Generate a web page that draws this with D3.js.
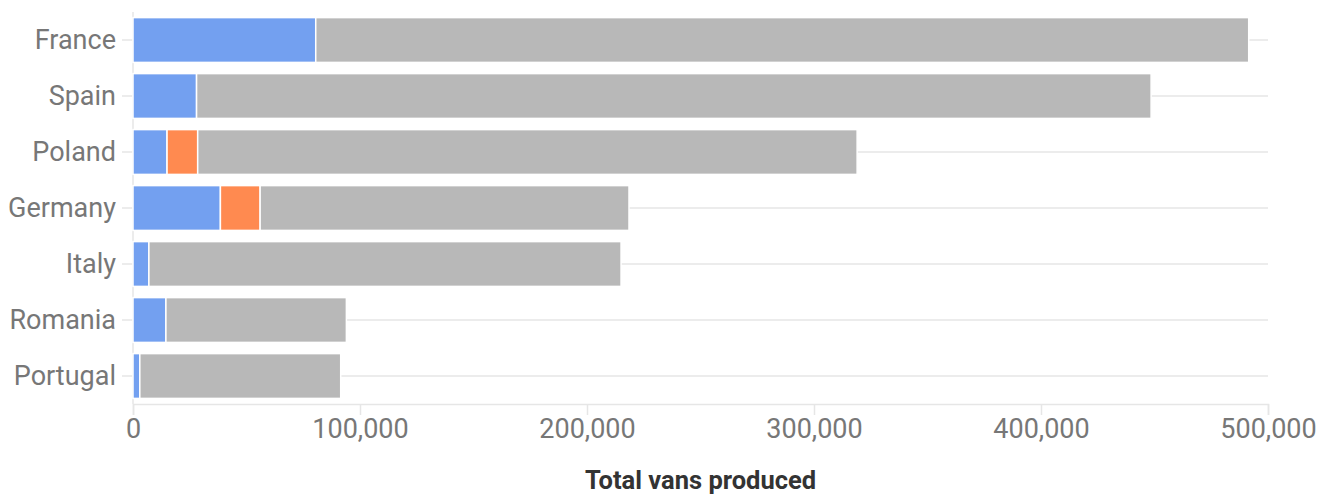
<!DOCTYPE html>
<html>
<head>
<meta charset="utf-8">
<script src="https://cdn.jsdelivr.net/npm/d3@7"></script>
<style>
  body { margin: 0; background: #fff; font-family: Roboto, sans-serif; }
</style>
</head>
<body>
<div id="chart"></div>
<script>
const countries = ['France', 'Spain', 'Poland', 'Germany', 'Italy', 'Romania', 'Portugal'];
const blueValues = [80500, 28000, 15000, 38500, 7000, 14500, 3000];
const orangeValues = [0, 0, 13500, 17500, 0, 0, 0];
const greyValues = [411000, 420500, 290500, 162500, 208000, 79500, 88500];
const xTicks = [0, 100000, 200000, 300000, 400000, 500000];
const seriesKeys = ['blue', 'orange', 'grey'];
const colors = { blue: '#73a0f0', orange: '#ff8a50', grey: '#b8b8b8' };

const width = 1330, height = 494;
const margin = { top: 12, right: 62, bottom: 90, left: 133 };

const table = countries.map((c, i) => ({
  country: c, blue: blueValues[i], orange: orangeValues[i], grey: greyValues[i]
}));

const svg = d3.select('#chart').append('svg')
  .attr('width', width)
  .attr('height', height);

const x = d3.scaleLinear()
  .domain([0, 500000])
  .range([margin.left, width - margin.right]);

const y = d3.scaleBand()
  .domain(countries)
  .range([margin.top, height - margin.bottom])
  .paddingInner(0.2)
  .paddingOuter(0.1);

// horizontal grid lines through each category
svg.append('g')
  .selectAll('line')
  .data(countries)
  .join('line')
  .attr('x1', margin.left - 11)
  .attr('x2', width - margin.right)
  .attr('y1', d => y(d) + y.bandwidth() / 2)
  .attr('y2', d => y(d) + y.bandwidth() / 2)
  .attr('stroke', '#e6e6e6')
  .attr('stroke-width', 1.5);

// left vertical line
svg.append('line')
  .attr('x1', x(0)).attr('x2', x(0))
  .attr('y1', margin.top).attr('y2', height - margin.bottom)
  .attr('stroke', '#e6e6e6')
  .attr('stroke-width', 1.5);

const stacked = d3.stack().keys(seriesKeys)(table);

svg.append('g')
  .selectAll('g')
  .data(stacked)
  .join('g')
  .attr('fill', d => colors[d.key])
  .selectAll('rect')
  .data(d => d.filter(s => s[1] - s[0] > 0))
  .join('rect')
  .attr('x', d => x(d[0]))
  .attr('y', d => y(d.data.country))
  .attr('width', d => x(d[1]) - x(d[0]))
  .attr('height', y.bandwidth())
  .attr('stroke', '#fff')
  .attr('stroke-width', 1.5);

// x axis
const xAxis = svg.append('g')
  .attr('transform', `translate(0,${height - margin.bottom})`)
  .call(d3.axisBottom(x).tickValues(xTicks).tickFormat(d3.format(',')).tickSize(11).tickPadding(4));
xAxis.select('.domain').attr('stroke', '#e6e6e6').attr('stroke-width', 1.5);
xAxis.selectAll('.tick line').attr('stroke', '#e6e6e6').attr('stroke-width', 1.5);
xAxis.selectAll('.tick text')
  .attr('fill', '#777')
  .style('font-family', 'Roboto, sans-serif')
  .style('font-size', '27px');

// y axis labels
const yAxis = svg.append('g')
  .attr('transform', `translate(${margin.left},0)`)
  .call(d3.axisLeft(y).tickSize(0).tickPadding(17));
yAxis.select('.domain').remove();
yAxis.selectAll('.tick text')
  .attr('fill', '#777')
  .style('font-family', 'Roboto, sans-serif')
  .style('font-size', '27px');

svg.append('text')
  .attr('x', (x(0) + x(500000)) / 2)
  .attr('y', 489)
  .attr('text-anchor', 'middle')
  .attr('fill', '#333')
  .style('font-family', 'Roboto, sans-serif')
  .style('font-weight', 'bold')
  .style('font-size', '25.5px')
  .text('Total vans produced');
</script>
</body>
</html>
